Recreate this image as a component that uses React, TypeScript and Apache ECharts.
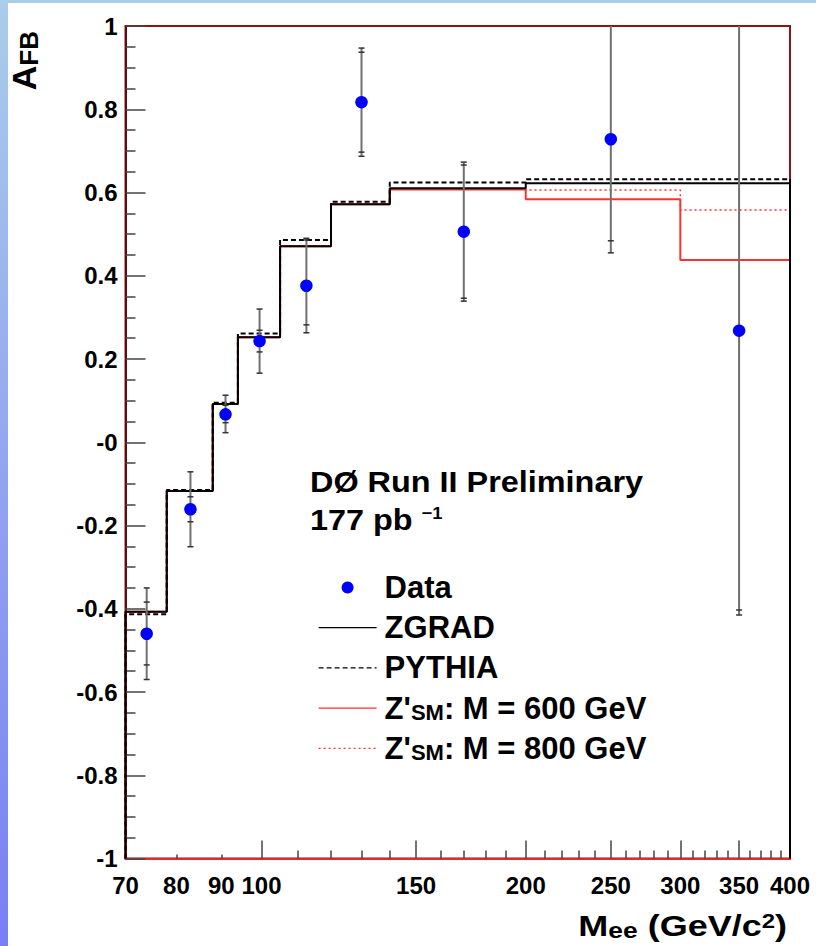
import { useEffect, useRef } from 'react';
import * as echarts from 'echarts';

// Mass bin edges (GeV/c^2) of the predicted A_FB histograms
const binEdges = [70, 78, 88, 94, 105, 120, 140, 200, 300, 400];
// Predicted A_FB per bin
const zgrad = [-0.407, -0.117, 0.092, 0.252, 0.471, 0.572, 0.61, 0.622, 0.622];
const pythia = [-0.413, -0.115, 0.095, 0.261, 0.486, 0.578, 0.624, 0.632, 0.632];
const zPrime600 = [-0.407, -0.117, 0.092, 0.252, 0.471, 0.572, 0.607, 0.584, 0.438];
const zPrime800 = [-0.407, -0.117, 0.092, 0.252, 0.471, 0.572, 0.609, 0.606, 0.558];

// Measured points: bin centre and A_FB
const dataMass = [74, 83, 91, 99.5, 112.5, 130, 170, 250, 350];
const dataAfb = [-0.46, -0.161, 0.067, 0.243, 0.376, 0.817, 0.506, 0.728, 0.268];
// Statistical uncertainty (down / up) and total uncertainty (down / up)
const statDown = [0.075, 0.03, 0.02, 0.026, 0.094, 0.12, 0.16, 0.244, 0.671];
const statUp = [0.076, 0.03, 0.022, 0.026, 0.11, 0.12, 0.16, 0.3, 0.75];
const totalDown = [0.11, 0.09, 0.044, 0.077, 0.113, 0.13, 0.167, 0.273, 0.683];
const totalUp = [0.11, 0.09, 0.046, 0.077, 0.114, 0.13, 0.167, 0.32, 0.77];

// Axis ticks on the logarithmic mass axis
const xLabelValues = [70, 80, 90, 100, 150, 200, 250, 300, 350, 400];
const xMajorTicks = [100, 150, 200, 250, 300, 350];
const xMinorTicks = [
  110, 120, 130, 140, 160, 170, 180, 190, 210, 220, 230, 240,
  260, 270, 280, 290, 310, 320, 330, 340, 360, 370, 380, 390,
];
const xShortTicks = [80, 90];

const NAME_DATA = 'Data';
const NAME_ZGRAD = 'ZGRAD';
const NAME_PYTHIA = 'PYTHIA';
const NAME_Z600 = "Z'SM: M = 600 GeV";
const NAME_Z800 = "Z'SM: M = 800 GeV";

const FONT = '"Liberation Sans", Arial, Helvetica, sans-serif';
const lx = (m: number) => Math.log10(m);
const X_MIN = lx(70);
const X_MAX = lx(400);

// Histogram outline, starting and ending on the frame floor like a ROOT histogram
function outline(values: number[]): number[][] {
  const pts: number[][] = [[lx(binEdges[0]), -1]];
  values.forEach((v, i) => {
    pts.push([lx(binEdges[i]), v]);
    pts.push([lx(binEdges[i + 1]), v]);
  });
  pts.push([lx(binEdges[binEdges.length - 1]), -1]);
  return pts;
}

const gridBox = { left: 125.5, right: 26, top: 26, bottom: 87.5 };

function buildOption(): echarts.EChartsOption {
  const errData = dataMass.map((m, i) => [
    lx(m), dataAfb[i], statDown[i], statUp[i], totalDown[i], totalUp[i],
  ]);
  const pointData = dataMass.map((m, i) => [lx(m), dataAfb[i]]);

  const hiddenX = (gridIndex: number, ticks: number[], len: number) => ({
    type: 'value' as const,
    gridIndex,
    min: X_MIN,
    max: X_MAX,
    position: 'bottom' as const,
    axisLine: { show: false, onZero: false },
    splitLine: { show: false },
    axisLabel: { show: false },
    axisTick: {
      show: true,
      inside: true,
      length: len,
      customValues: ticks.map(lx),
      lineStyle: { color: '#444', width: 1.5 },
    },
  });
  const hiddenY = (gridIndex: number) => ({
    type: 'value' as const,
    gridIndex,
    min: -1,
    max: 1,
    show: false,
  });

  const legendText = {
    color: '#000',
    fontFamily: FONT,
    fontWeight: 'bold',
    fontSize: 31,
    lineHeight: 30,
    padding: [0, 0, 0, 3],
    rich: {
      sub: {
        color: '#000',
        fontFamily: FONT,
        fontWeight: 'bold',
        fontSize: 22,
        lineHeight: 8,
        verticalAlign: 'bottom',
      },
    },
  };

  const histLine = (name: string, values: number[], lineStyle: any, z: number) => ({
    name,
    type: 'line' as const,
    data: outline(values),
    symbol: 'none',
    lineStyle,
    // the marker colour is only used by the legend icon, which should show the line alone
    itemStyle: { color: lineStyle.color, opacity: 0 },
    z,
  });

  return {
    animation: false,
    backgroundColor: '#ffffff',
    grid: [
      { ...gridBox, show: true, borderColor: '#8a1515', borderWidth: 2 },
      { ...gridBox },
      { ...gridBox },
    ],
    xAxis: [
      {
        type: 'value',
        gridIndex: 0,
        min: X_MIN,
        max: X_MAX,
        position: 'bottom',
        splitLine: { show: false },
        axisLine: { show: true, onZero: false, lineStyle: { color: '#e32a2a', width: 2 } },
        axisTick: {
          show: true,
          inside: true,
          length: 18,
          customValues: xMajorTicks.map(lx),
          lineStyle: { color: '#444', width: 1.5 },
        },
        axisLabel: {
          show: true,
          customValues: xLabelValues.map(lx),
          formatter: (v: number) => {
            const hit = xLabelValues.find((t) => Math.abs(lx(t) - v) < 1e-6);
            return hit === undefined ? '' : String(hit);
          },
          margin: 15,
          color: '#000',
          fontFamily: FONT,
          fontWeight: 'bold',
          fontSize: 24,
        },
      },
      hiddenX(1, xMinorTicks, 8),
      hiddenX(2, xShortTicks, 4),
    ],
    yAxis: [
      {
        type: 'value',
        gridIndex: 0,
        min: -1,
        max: 1,
        interval: 0.2,
        splitLine: { show: false },
        axisLine: { show: true, onZero: false, lineStyle: { color: '#5c0d0d', width: 2 } },
        axisTick: { show: true, inside: true, length: 20, lineStyle: { color: '#444', width: 1.5 } },
        minorTick: { show: true, splitNumber: 4, length: 10, lineStyle: { color: '#444', width: 1.5 } },
        axisLabel: {
          showMinLabel: true,
          showMaxLabel: true,
          margin: 8,
          color: '#000',
          fontFamily: FONT,
          fontWeight: 'bold',
          fontSize: 24,
          formatter: (v: number) => {
            const r = Math.round(v * 10) / 10;
            if (r === 0) return '-0';
            if (r === 1) return '1';
            if (r === -1) return '-1';
            return r.toFixed(1);
          },
        },
      },
      hiddenY(1),
      hiddenY(2),
    ],
    legend: {
      orient: 'vertical',
      left: 313,
      top: 567,
      itemWidth: 58,
      itemHeight: 12,
      itemGap: 9.2,
      selectedMode: false,
      lineStyle: { width: 1.2 },
      data: [NAME_DATA, NAME_ZGRAD, NAME_PYTHIA, NAME_Z600, NAME_Z800],
      formatter: (name: string) => name.replace("Z'SM", "Z'{sub|SM}"),
      textStyle: legendText,
    },
    series: [
      histLine(NAME_Z600, zPrime600, { color: '#ff3030', width: 2 }, 2),
      histLine(NAME_Z800, zPrime800, { color: '#ff3030', width: 1.5, type: [2, 3] }, 2),
      histLine(NAME_ZGRAD, zgrad, { color: '#000', width: 2 }, 3),
      histLine(NAME_PYTHIA, pythia, { color: '#000', width: 2, type: [5, 3] }, 3),
      {
        name: 'errors',
        type: 'custom',
        data: errData,
        encode: { x: 0, y: 1 },
        z: 4,
        renderItem: (_params: any, api: any) => {
          const x = api.value(0);
          const y = api.value(1);
          const sd = api.value(2);
          const su = api.value(3);
          const td = api.value(4);
          const tu = api.value(5);
          const top = api.coord([x, Math.min(y + tu, 1)]);
          const bot = api.coord([x, Math.max(y - td, -1)]);
          const children: any[] = [
            {
              type: 'line',
              shape: { x1: top[0], y1: top[1], x2: bot[0], y2: bot[1] },
              style: { stroke: '#707070', lineWidth: 2 },
            },
          ];
          [y + tu, y + su, y - sd, y - td].forEach((v) => {
            if (v <= 1 && v >= -1) {
              const p = api.coord([x, v]);
              children.push({
                type: 'line',
                shape: { x1: p[0] - 3, y1: p[1], x2: p[0] + 3, y2: p[1] },
                style: { stroke: '#333', lineWidth: 1.5 },
              });
            }
          });
          return { type: 'group', children };
        },
      },
      {
        name: NAME_DATA,
        type: 'scatter',
        data: pointData,
        symbol: 'circle',
        symbolSize: 12.5,
        itemStyle: { color: '#0000ff', opacity: 1 },
        z: 5,
      },
    ],
    graphic: [
      {
        type: 'rect',
        z: -10,
        silent: true,
        shape: { x: 0, y: 0, width: 8, height: 946 },
        style: {
          fill: new echarts.graphic.LinearGradient(0, 0, 0, 1, [
            { offset: 0, color: '#a9cdea' },
            { offset: 1, color: '#7a7ef4' },
          ]),
        },
      },
      {
        type: 'rect',
        z: -10,
        silent: true,
        shape: { x: 0, y: 0, width: 816, height: 3 },
        style: { fill: '#aacdea' },
      },
      {
        type: 'text',
        x: 23.5,
        y: 31,
        rotation: Math.PI / 2,
        style: {
          text: 'A{sub|FB}',
          align: 'right',
          verticalAlign: 'middle',
          fill: '#000',
          fontFamily: FONT,
          fontWeight: 'bold',
          fontSize: 34,
          lineHeight: 36,
          rich: {
            sub: {
              fill: '#000',
              fontFamily: FONT,
              fontWeight: 'bold',
              fontSize: 26,
              lineHeight: 17,
              verticalAlign: 'bottom',
            },
          },
        },
      },
      {
        type: 'text',
        x: 787,
        y: 926,
        scaleX: 1.2,
        style: {
          text: 'M{sub|ee} (GeV/c{sup|2})',
          align: 'right',
          verticalAlign: 'middle',
          fill: '#000',
          fontFamily: FONT,
          fontWeight: 'bold',
          fontSize: 30,
          lineHeight: 30,
          rich: {
            sub: {
              fill: '#000',
              fontFamily: FONT,
              fontWeight: 'bold',
              fontSize: 22,
              lineHeight: 10,
              verticalAlign: 'bottom',
            },
            sup: {
              fill: '#000',
              fontFamily: FONT,
              fontWeight: 'bold',
              fontSize: 20,
              lineHeight: 16,
              verticalAlign: 'top',
            },
          },
        },
      },
      {
        type: 'text',
        x: 310,
        y: 482,
        scaleX: 1.08,
        style: {
          text: 'DØ Run II Preliminary',
          align: 'left',
          verticalAlign: 'middle',
          fill: '#000',
          fontFamily: FONT,
          fontWeight: 'bold',
          fontSize: 30,
        },
      },
      {
        type: 'text',
        x: 310,
        y: 520,
        scaleX: 1.08,
        style: {
          text: '177 pb {sup|−1}',
          align: 'left',
          verticalAlign: 'middle',
          fill: '#000',
          fontFamily: FONT,
          fontWeight: 'bold',
          fontSize: 30,
          lineHeight: 30,
          rich: {
            sup: {
              fill: '#000',
              fontFamily: FONT,
              fontWeight: 'bold',
              fontSize: 17,
              lineHeight: 15,
              verticalAlign: 'top',
            },
          },
        },
      },
    ],
  } as echarts.EChartsOption;
}

export default function App() {
  const ref = useRef<HTMLDivElement>(null);
  useEffect(() => {
    if (!ref.current) return;
    const chart = echarts.init(ref.current, null, { renderer: 'svg' });
    chart.setOption(buildOption());
    return () => chart.dispose();
  }, []);
  return (
    <div
      ref={ref}
      style={{ position: 'fixed', left: 0, top: 0, width: 816, height: 946 }}
    />
  );
}
